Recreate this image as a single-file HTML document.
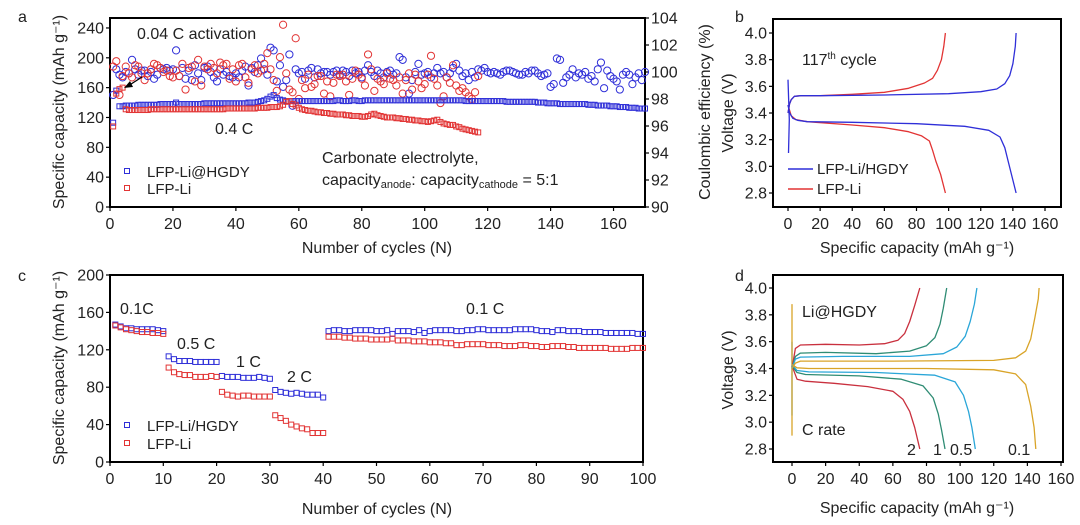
<!DOCTYPE html>
<html><head><meta charset="utf-8"><style>
html,body{margin:0;padding:0;background:#fff;}
svg{display:block;font-family:"Liberation Sans",Arial,sans-serif;}
text{fill:#222;}
</style></head><body>
<svg id="fig" width="1080" height="525" viewBox="0 0 1080 525" xmlns="http://www.w3.org/2000/svg"></svg>
<script>
// ---------- Panel a data ----------
const aBlueCap=[113,156,135,135,136,136,136,136,137,137,137,137,137,137,137,138,138,138,138,138,140,138,138,138,138,138,138,138,138,139,139,139,139,139,139,139,139,139,139,139,139,139,139,140,140,140,141,142,143,145,148,150,146,144,143,142,142,142,142,142,142,142,142,142,142,142,142,142,142,142,142,143,143,142,142,142,143,143,142,142,143,143,143,143,143,143,143,143,143,143,143,143,143,143,143,143,143,143,143,143,143,143,143,143,143,143,143,143,143,143,143,143,142,142,142,142,142,142,142,142,142,142,142,142,142,141,141,141,141,141,141,141,141,141,141,140,140,140,139,139,139,139,138,138,138,138,138,138,138,138,138,137,137,137,136,136,136,136,135,135,135,134,134,134,133,133,133,132,132,132];
const aRedCap=[108,152,158,160,131,130,130,130,130,130,130,130,131,131,131,131,131,131,131,131,131,131,131,131,131,131,131,131,131,131,131,131,131,131,131,131,132,132,132,132,132,132,132,132,132,132,133,133,133,133,134,134,134,135,137,141,142,138,136,133,131,130,129,129,128,127,127,126,126,125,125,124,124,124,123,123,122,122,122,121,121,122,124,125,123,122,121,120,120,120,119,119,118,118,117,117,116,116,115,115,114,115,116,117,114,112,111,110,110,108,107,105,104,103,102,101,100];
const aBlueCE=[98.3,100.2,99.8,99.6,100.0,99.9,100.9,100.2,99.8,100.1,100.1,99.7,100.0,99.5,99.8,100.3,100.2,100.3,100.1,100.2,101.6,99.7,100.3,99.5,100.1,99.4,100.5,99.9,99.4,100.3,100.4,100.0,99.6,99.3,100.2,99.8,100.0,99.7,99.6,99.9,99.6,100.1,100.4,99.0,100.3,100.0,100.5,101.0,100.2,99.8,101.8,101.6,99.3,100.5,98.9,99.4,101.3,97.5,100.2,99.9,100.0,99.5,100.1,100.3,99.6,100.2,99.9,100.0,100.0,99.8,100.0,100.1,99.8,100.1,100.0,99.7,100.1,99.9,100.0,99.6,100.1,100.5,100.0,99.7,100.1,99.9,99.6,100.0,100.1,99.8,99.9,101.1,100.9,99.6,98.4,99.4,100.0,100.6,99.8,99.9,100.0,99.6,99.9,100.3,99.9,100.0,99.6,99.9,100.3,100.6,100.1,99.7,99.9,99.4,100.0,99.6,100.2,100.1,100.3,100.0,99.9,100.0,99.9,99.8,100.0,100.1,100.1,100.0,99.9,99.8,99.8,100.0,99.9,100.1,100.1,99.9,99.7,99.8,99.9,98.9,99.1,101.0,100.9,99.2,99.6,99.8,100.2,99.6,99.9,99.8,100.0,99.5,99.7,99.3,100.2,100.7,98.8,100.1,99.7,99.5,99.3,98.7,99.8,100.0,99.8,99.1,99.6,99.9,99.4,100.0];
const aRedCE=[100.4,100.8,98.3,99.7,100.4,99.9,99.6,100.5,100.4,99.9,99.4,99.9,100.2,100.6,100.5,100.3,100.0,100.1,99.7,99.6,100.1,99.7,100.6,98.7,100.3,100.4,99.3,100.9,99.0,100.4,100.2,100.6,100.3,99.9,100.7,100.5,100.6,99.5,100.2,99.3,100.5,100.6,99.6,99.2,100.2,100.5,99.9,100.1,100.6,101.4,100.2,99.4,98.6,101.1,103.5,99.9,98.7,98.5,102.5,98.0,99.4,98.8,99.8,98.9,99.1,99.7,99.7,98.4,99.3,98.2,99.2,99.8,99.7,99.8,99.3,98.3,99.5,100.1,99.8,99.5,99.0,101.3,100.2,98.6,99.5,99.3,99.1,99.9,99.5,99.4,99.0,99.6,98.4,99.4,99.9,98.7,99.8,99.3,98.8,99.1,99.8,101.2,99.5,99.0,97.7,98.2,99.6,99.2,100.5,99.0,98.6,98.8,98.5,98.2,98.0,98.5,99.7];
const aXTicks=[0,20,40,60,80,100,120,140,160];
const aYTicks=[0,40,80,120,160,200,240];
const aY2Ticks=[90,92,94,96,98,100,102,104];
// ---------- Panel c data ----------
const cBlue=[147,145,143,143,142,142,142,142,141,140,113,110,108,108,108,107,107,107,107,107,92,91,91,91,90,90,90,91,90,89,77,75,74,73,74,73,72,72,72,69,140,141,141,140,140,141,141,141,141,140,140,141,137,140,140,140,139,141,138,140,141,141,141,141,140,140,141,141,142,142,141,141,141,141,141,142,142,142,142,141,140,140,139,141,141,140,140,140,139,139,139,139,138,138,138,138,138,138,137,137];
const cRed=[146,144,142,141,140,139,139,138,138,137,101,96,94,93,93,91,91,91,92,91,75,72,71,70,71,71,70,70,70,70,50,47,44,40,38,36,35,31,31,31,134,134,134,133,133,132,132,132,131,131,131,131,132,130,130,130,129,129,129,128,128,128,127,127,125,125,126,126,126,126,125,125,125,124,124,124,125,125,124,124,123,123,124,124,124,123,123,122,122,122,122,122,122,121,121,121,121,122,122,122];
const cXTicks=[0,10,20,30,40,50,60,70,80,90,100];
const cYTicks=[0,40,80,120,160,200];
// ---------- Panel b data ([capacity, voltage]) ----------
const bBlueCharge=[[0,3.40],[1,3.47],[2,3.50],[4,3.525],[8,3.53],[20,3.53],[60,3.535],[100,3.545],[120,3.56],[130,3.58],[135,3.62],[138,3.68],[140,3.77],[141.5,3.9],[142,4.0]];
const bBlueDis=[[0,3.46],[1,3.40],[3,3.36],[6,3.345],[12,3.335],[40,3.33],[80,3.32],[110,3.30],[125,3.27],[132,3.22],[135,3.14],[137,3.04],[139.5,2.92],[142,2.8]];
const bBlueSpike=[[0,3.65],[0.8,3.35],[0.3,3.10]];
const bRedCharge=[[0,3.40],[1,3.47],[2,3.50],[4,3.525],[8,3.53],[20,3.53],[40,3.54],[60,3.555],[75,3.585],[85,3.625],[90,3.66],[93,3.72],[95.5,3.8],[97,3.9],[98,4.0]];
const bRedDis=[[0,3.46],[2,3.38],[5,3.35],[12,3.335],[40,3.31],[60,3.29],[75,3.26],[83,3.23],[88,3.19],[90,3.12],[92,3.04],[95,2.94],[98,2.8]];
const bXTicks=[0,20,40,60,80,100,120,140,160];
const bYTicks=[2.8,3.0,3.2,3.4,3.6,3.8,4.0];
// ---------- Panel d data ----------
const dRates=["2","1","0.5","0.1"];
const dCharge=[
 [[0,3.40],[2,3.55],[5,3.575],[20,3.58],[40,3.575],[55,3.585],[63,3.61],[67,3.66],[70,3.75],[73,3.87],[76,4.0]],
 [[0,3.40],[2,3.49],[5,3.515],[20,3.52],[50,3.51],[70,3.53],[80,3.57],[85,3.63],[88,3.73],[90,3.85],[92,4.0]],
 [[0,3.40],[2,3.47],[5,3.485],[30,3.49],[70,3.49],[90,3.51],[98,3.56],[103,3.64],[106,3.75],[108.5,3.88],[110,4.0]],
 [[0,3.40],[2,3.44],[5,3.455],[60,3.455],[120,3.46],[133,3.48],[139,3.53],[142,3.62],[144.5,3.78],[146.5,3.92],[147,4.0]]];
const dDis=[
 [[0,3.42],[3,3.32],[8,3.305],[25,3.29],[45,3.265],[60,3.23],[66,3.17],[70,3.08],[73,2.96],[76,2.8]],
 [[0,3.42],[3,3.37],[8,3.355],[40,3.345],[65,3.32],[78,3.27],[84,3.18],[87,3.06],[89,2.94],[91,2.8]],
 [[0,3.43],[3,3.385],[10,3.375],[50,3.37],[85,3.35],[97,3.30],[102,3.20],[105,3.08],[107,2.96],[109,2.8]],
 [[0,3.43],[3,3.405],[10,3.40],[80,3.40],[120,3.39],[133,3.36],[139,3.28],[142,3.12],[144,2.96],[145,2.8]]];
const dSpikes=[[3.05,3.60],[2.9,3.88]];
const dXTicks=[0,20,40,60,80,100,120,140,160];
const dYTicks=[2.8,3.0,3.2,3.4,3.6,3.8,4.0];

const NS="http://www.w3.org/2000/svg";
const svg=document.getElementById('fig');
function el(tag,attrs,parent){const e=document.createElementNS(NS,tag);for(const k in attrs)e.setAttribute(k,attrs[k]);(parent||svg).appendChild(e);return e;}
function txt(s,x,y,size,anchor,parent,fill){const t=el('text',{x:x,y:y,'font-size':size,'text-anchor':anchor||'start'},parent);if(fill)t.setAttribute('fill',fill);t.textContent=s;return t;}
const BLUE="#2f2fd8",RED="#e23434";

function frame(name,l,t,r,b){
 const g=el('g',{});
 
 
 const f=el('rect',{x:l,y:t,width:r-l,height:b-t,fill:'none',stroke:'#000','stroke-width':2},g);
 
 
 return g;
}
function xTicks(g,ticks,sx,b,fmt,size){
 ticks.forEach(v=>{const x=sx(v);
  const ln=el('line',{x1:x,y1:b,x2:x,y2:b+4,stroke:'#000','stroke-width':1.2},g);
  
  
  const t=txt(fmt(v),x,b+22,size,'middle',g);
  
  });
}
function yTicks(g,ticks,sy,l,fmt,size,right){
 ticks.forEach(v=>{const y=sy(v);
  const ln=el('line',{x1:l,y1:y,x2:right?l+4:l-4,y2:y,stroke:'#000','stroke-width':1.2},g);
  
  
  const t=txt(fmt(v),right?l+6:l-6,y+5.5,size,right?'start':'end',g);
  
  });
}
function sq(g,x,y,c,name){const r=el('rect',{x:x-2.5,y:y-2.5,width:5,height:5,fill:'none',stroke:c,'stroke-width':1},g);
 
 }
function circ(g,x,y,c,name){const r=el('circle',{cx:x,cy:y,r:3.6,fill:'none',stroke:c,'stroke-width':1},g);
 
 }
function path(g,pts,sx,sy,c,name,w){const d=pts.map((p,i)=>(i?'L':'M')+sx(p[0]).toFixed(1)+','+sy(p[1]).toFixed(1)).join('');
 const p=el('path',{d:d,fill:'none',stroke:c,'stroke-width':w||1.3,'stroke-linejoin':'round'},g);
 
 return p;}
function label(g,s,x,y,size,anchor,name,fill,rot){const t=txt(s,x,y,size,anchor,g,fill);
 if(rot)t.setAttribute('transform','rotate(-90 '+x+' '+y+')');
 
 return t;}

// ===== Panel a =====
(function(){
 const L=110,R=645,T=18,B=207;
 const sx=n=>L+n*(R-L)/170, sy=v=>B-v*0.746, sy2=v=>B-(v-90)*13.5;
 const g=frame('panel-a',L,T,R,B);
 xTicks(g,aXTicks,sx,B,v=>String(v),16);
 yTicks(g,aYTicks,sy,L,v=>String(v),16,false);
 yTicks(g,aY2Ticks,sy2,R,v=>String(v),16,true);
 aBlueCE.forEach((v,i)=>circ(g,sx(i+1),sy2(v),BLUE,'blue-ce-point'));
 aRedCE.forEach((v,i)=>circ(g,sx(i+1),sy2(v),RED,'red-ce-point'));
 aBlueCap.forEach((v,i)=>sq(g,sx(i+1),sy(v),BLUE,'blue-capacity-point'));
 aRedCap.forEach((v,i)=>sq(g,sx(i+1),sy(v),RED,'red-capacity-point'));
 label(g,'a',18,22,16,'start','panel-label-a');
 label(g,'Number of cycles (N)',377,253,16,'middle','x-axis-title');
 label(g,'Specific capacity (mAh g\u207B\u00B9)',64,112,16,'middle','y-axis-title',null,true);
 label(g,'Coulombic efficiency (%)',710,112,16,'middle','y2-axis-title',null,true);
 label(g,'0.04 C activation',137,39,16,'start','activation-annotation');
 const ar=el('path',{d:'M142,77 L128,86',stroke:'#000','stroke-width':1.3,fill:'none'},g);
 
 
 const ah=el('path',{d:'M124,88 L130,81 L133,87 Z',fill:'#000'},g);
 
 
 label(g,'0.4 C',215,134,16,'start','rate-annotation');
 label(g,'Carbonate electrolyte,',322,163,16,'start','electrolyte-note');
 const t=label(g,'',322,185,16,'start','capacity-ratio-note');
 t.innerHTML='capacity<tspan font-size="11" dy="3">anode</tspan><tspan dy="-3">: capacity</tspan><tspan font-size="11" dy="3">cathode</tspan><tspan dy="-3"> = 5:1</tspan>';
 sq(g,127,171,BLUE,'legend-marker-blue');
 label(g,'LFP-Li@HGDY',147,177,15,'start','legend-label-blue');
 sq(g,127,188,RED,'legend-marker-red');
 label(g,'LFP-Li',147,194,15,'start','legend-label-red');
})();

// ===== Panel c =====
(function(){
 const L=110,R=643,T=275,B=462;
 const sx=n=>L+n*(R-L)/100, sy=v=>B-v*(B-T)/200;
 const g=frame('panel-c',L,T,R,B);
 xTicks(g,cXTicks,sx,B,v=>String(v),16);
 yTicks(g,cYTicks,sy,L,v=>String(v),16,false);
 cBlue.forEach((v,i)=>sq(g,sx(i+1),sy(v),BLUE,'blue-rate-point'));
 cRed.forEach((v,i)=>sq(g,sx(i+1),sy(v),RED,'red-rate-point'));
 label(g,'c',18,281,16,'start','panel-label-c');
 label(g,'Number of cycles (N)',377,514,16,'middle','x-axis-title');
 label(g,'Specific capacity (mAh g\u207B\u00B9)',64,368,16,'middle','y-axis-title',null,true);
 label(g,'0.1C',120,314,16,'start','rate-label-0.1c');
 label(g,'0.5 C',177,349,16,'start','rate-label-0.5c');
 label(g,'1 C',236,367,16,'start','rate-label-1c');
 label(g,'2 C',287,382,16,'start','rate-label-2c');
 label(g,'0.1 C',466,314,16,'start','rate-label-0.1c-return');
 sq(g,127,425,BLUE,'legend-marker-blue');
 label(g,'LFP-Li/HGDY',147,431,15,'start','legend-label-blue');
 sq(g,127,443,RED,'legend-marker-red');
 label(g,'LFP-Li',147,449,15,'start','legend-label-red');
})();

// ===== Panel b =====
(function(){
 const L=773,R=1061,T=19,B=207;
 const sx=c=>788+c*(1045-788)/160, sy=v=>193-(v-2.8)*(193-33)/1.2;
 const g=frame('panel-b',L,T,R,B);
 xTicks(g,bXTicks,sx,B,v=>String(v),16);
 yTicks(g,bYTicks,sy,L,v=>v.toFixed(1),16,false);
 path(g,bBlueSpike,sx,sy,BLUE,'blue-spike');
 path(g,bRedCharge,sx,sy,RED,'red-charge-curve');
 path(g,bRedDis,sx,sy,RED,'red-discharge-curve');
 path(g,bBlueCharge,sx,sy,BLUE,'blue-charge-curve');
 path(g,bBlueDis,sx,sy,BLUE,'blue-discharge-curve');
 label(g,'b',735,22,16,'start','panel-label-b');
 label(g,'Specific capacity (mAh g\u207B\u00B9)',917,253,16,'middle','x-axis-title');
 label(g,'Voltage (V)',733,113,16,'middle','y-axis-title',null,true);
 const t=label(g,'',802,65,16,'start','cycle-annotation');
 t.innerHTML='117<tspan font-size="10" dy="-6">th</tspan><tspan dy="6"> cycle</tspan>';
 const l1=el('line',{x1:788,y1:169,x2:813,y2:169,stroke:BLUE,'stroke-width':1.5},g);
 
 
 label(g,'LFP-Li/HGDY',817,174,15,'start','legend-label-blue');
 const l2=el('line',{x1:788,y1:189,x2:813,y2:189,stroke:RED,'stroke-width':1.5},g);
 
 
 label(g,'LFP-Li',817,194,15,'start','legend-label-red');
})();

// ===== Panel d =====
(function(){
 const L=773,R=1063,T=275,B=462;
 const sx=c=>792+c*(1061-792)/160, sy=v=>449-(v-2.8)*(449-288)/1.2;
 const g=frame('panel-d',L,T,R,B);
 xTicks(g,dXTicks,sx,B,v=>String(v),16);
 yTicks(g,dYTicks,sy,L,v=>v.toFixed(1),16,false);
 const cols=["#c9303e","#2f8c74","#2aa6d8","#d9a428"];
 dSpikes.forEach((s,i)=>path(g,[[0,s[0]],[0,s[1]]],sx,sy,i?cols[3]:cols[2],'d-spike'));
 dRates.forEach((r,i)=>{path(g,dCharge[i],sx,sy,cols[i],'charge-curve-'+r+'c');path(g,dDis[i],sx,sy,cols[i],'discharge-curve-'+r+'c');});
 label(g,'d',735,281,16,'start','panel-label-d');
 label(g,'Specific capacity (mAh g\u207B\u00B9)',917,513,16,'middle','x-axis-title');
 label(g,'Voltage (V)',733,370,16,'middle','y-axis-title',null,true);
 label(g,'Li@HGDY',802,317,16,'start','material-annotation');
 label(g,'C rate',802,435,16,'start','c-rate-annotation');
 const lx=[907,933,950,1008];
 dRates.forEach((r,i)=>label(g,r,lx[i],455,16,'start','rate-label-'+r,cols[i]));
})();
</script>
</body></html>
